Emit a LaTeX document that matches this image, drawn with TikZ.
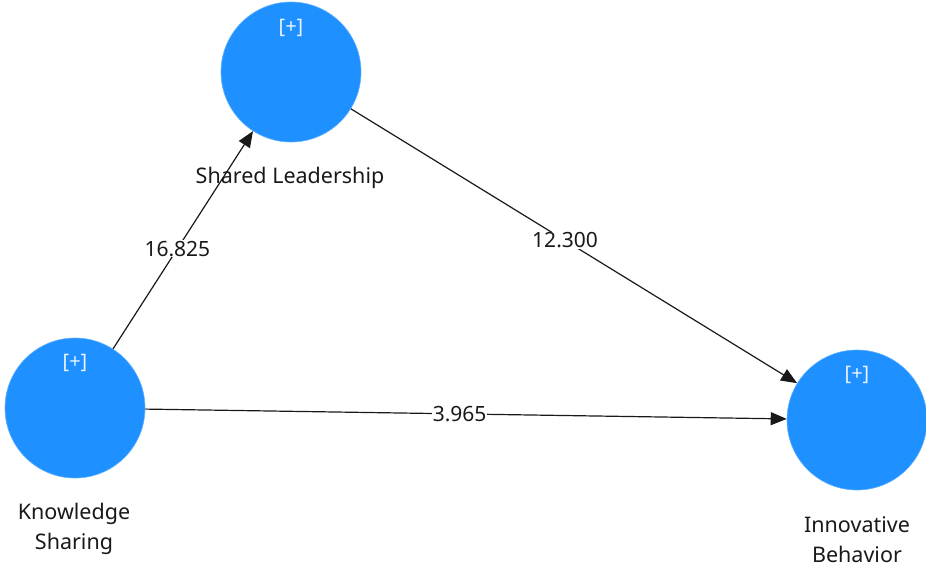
\documentclass[tikz,border=0pt]{standalone}
\usepackage{fontspec}
\setmainfont{Noto Sans}
\usetikzlibrary{arrows.meta}
\definecolor{lv}{RGB}{30,144,255}
\definecolor{txt}{RGB}{25,25,25}
\begin{document}
\begin{tikzpicture}[x=1pt,y=-1pt,
  latent/.style={circle,fill=lv,draw=lv!70,line width=0.6pt,minimum size=140pt,inner sep=0pt},
  plus/.style={text=white!90!lv,font=\fontsize{20}{24}\selectfont},
  lab/.style={text=txt,font=\fontsize{21.5}{30}\selectfont,align=center},
  path/.style={draw=black!90,line width=1.2pt,-{Triangle[length=16pt,width=13pt]}},
  coef/.style={fill=white,text=txt,font=\fontsize{21}{24}\selectfont,inner sep=1pt}]
\useasboundingbox (0,0) rectangle (926,571);
\node[latent] (sl) at (291,72) {};
\node[latent] (ks) at (75,408) {};
\node[latent] (ib) at (857,420) {};
\node[plus] (slp) at (291,28) {[+]};
\node[plus] (ksp) at (75,363) {[+]};
\node[plus] (ibp) at (857,375) {[+]};
\node[lab] (sll) at (290,178) {Shared Leadership};
\node[lab] (ksl) at (74,529) {Knowledge\\Sharing};
\node[lab] (ibl) at (857,540) {Innovative\\Behavior};
\draw[path] (ks) -- node[coef,pos=0.46] (c1) {16.825} (sl);
\draw[path] (sl) -- node[coef,pos=0.48] (c2) {12.300} (ib);
\draw[path] (ks) -- node[coef,pos=0.49] (c3) {3.965} (ib);
\end{tikzpicture}
\end{document}
